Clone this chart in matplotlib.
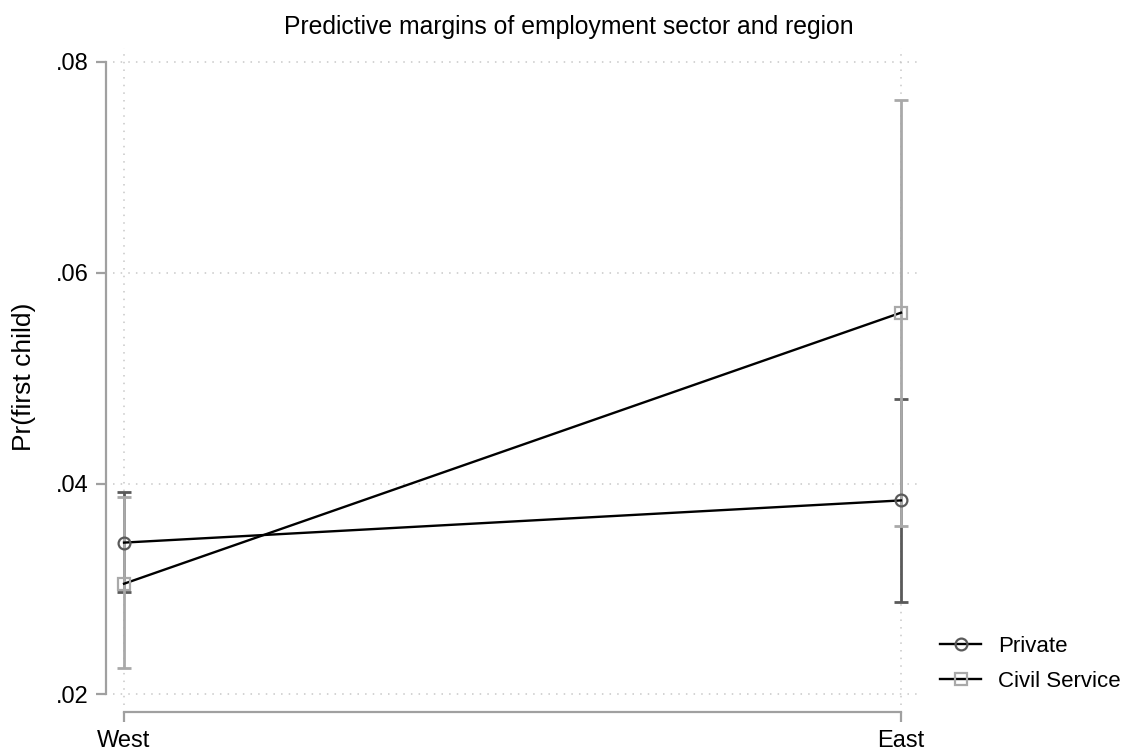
import matplotlib
matplotlib.use("Agg")
import matplotlib.pyplot as plt

plt.rcParams['font.family'] = ['Liberation Sans', 'DejaVu Sans']

# Predictive margins with 95% confidence intervals
regions = ["West", "East"]
private_margin = [0.0344, 0.0384]
private_lower = [0.0297, 0.0288]
private_upper = [0.0392, 0.0480]
civil_margin = [0.0305, 0.0562]
civil_lower = [0.0225, 0.0360]
civil_upper = [0.0387, 0.0764]
yticks = [0.02, 0.04, 0.06, 0.08]
ytick_labels = [".02", ".04", ".06", ".08"]

W, H = 1123, 751
fig = plt.figure(figsize=(W / 100, H / 100), dpi=100)
ax = fig.add_axes([113 / W, 1 - 705 / H, (918 - 113) / W, (705 - 48) / H])

x = list(range(len(regions)))
dark = "#5a5a5a"
light = "#a9a9a9"
axis_grey = "#a0a0a0"

# confidence intervals
ax.errorbar(x, private_margin,
            yerr=[[m - lo for m, lo in zip(private_margin, private_lower)],
                  [hi - m for m, hi in zip(private_margin, private_upper)]],
            fmt="none", ecolor=dark, elinewidth=2.0, capsize=4.8, capthick=2.0, zorder=2)
ax.errorbar(x, civil_margin,
            yerr=[[m - lo for m, lo in zip(civil_margin, civil_lower)],
                  [hi - m for m, hi in zip(civil_margin, civil_upper)]],
            fmt="none", ecolor=light, elinewidth=2.0, capsize=4.8, capthick=2.0, zorder=2.1)

# connected margins
ax.plot(x, private_margin, color="black", lw=1.7, marker="o", ms=8.5,
        mfc="none", mec=dark, mew=1.6, zorder=3, label="Private")
ax.plot(x, civil_margin, color="black", lw=1.7, marker="s", ms=8,
        mfc="none", mec=light, mew=1.6, zorder=3, label="Civil Service")

ax.set_xlim(-0.0142, 1.0219)
ax.set_ylim(0.0190, 0.0813)
ax.set_xticks(x)
ax.set_xticklabels(regions)
ax.set_yticks(yticks)
ax.set_yticklabels(ytick_labels)

ax.grid(True, color="#c8c8c8", linestyle=(0, (1, 4)), linewidth=1.1)
ax.set_axisbelow(True)

for side in ("top", "right"):
    ax.spines[side].set_visible(False)
for side in ("left", "bottom"):
    ax.spines[side].set_color(axis_grey)
    ax.spines[side].set_linewidth(1.6)
    ax.spines[side].set_position(("outward", 5))
ax.spines["left"].set_bounds(yticks[0], yticks[-1])
ax.spines["bottom"].set_bounds(x[0], x[-1])

ax.tick_params(axis="both", colors=axis_grey, width=1.6, length=7,
               labelcolor="black", labelsize=17)
ax.tick_params(axis="x", pad=6)
ax.tick_params(axis="y", pad=5.5)

ax.set_ylabel("Pr(first child)", fontsize=19, labelpad=14)

fig.text(569 / W, 1 - 27 / H, "Predictive margins of employment sector and region",
         ha="center", va="center", fontsize=17.8)

leg = fig.legend(loc="center left", bbox_to_anchor=(920 / W, 1 - 664 / H),
                 frameon=False, fontsize=16, handlelength=1.85,
                 handletextpad=0.75, labelspacing=0.62)

fig.savefig("out.png", dpi=100)
